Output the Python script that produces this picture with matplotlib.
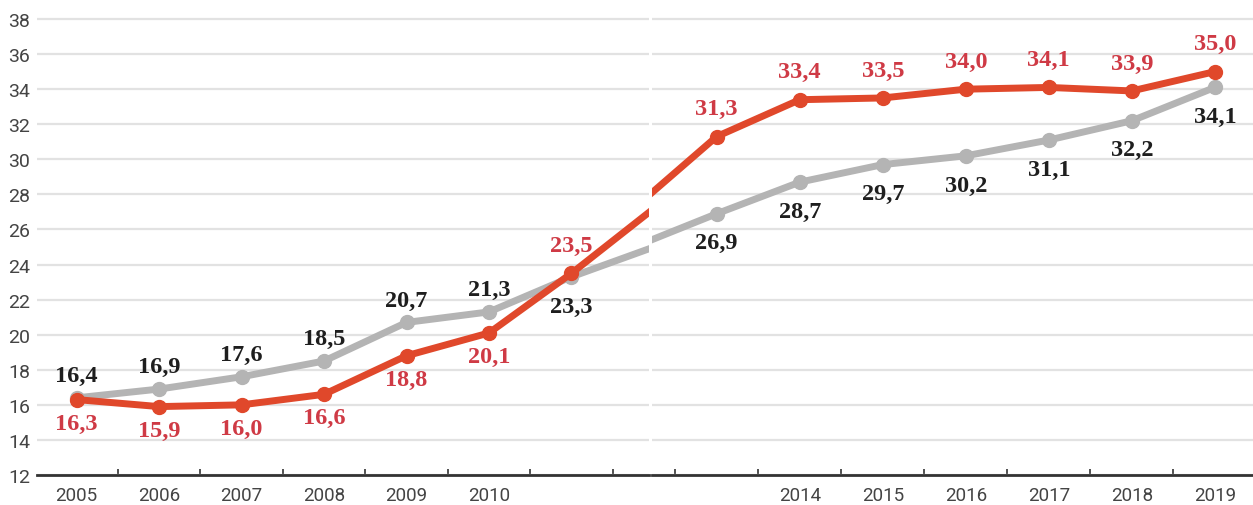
import numpy as np
import matplotlib
matplotlib.use('Agg')
import matplotlib.pyplot as plt

# data
years = [2005, 2006, 2007, 2008, 2009, 2010, 2011, 2012, 2013, 2014, 2015, 2016, 2017, 2018, 2019]
gray_vals = [16.4, 16.9, 17.6, 18.5, 20.7, 21.3, 23.3, 25.0, 26.9, 28.7, 29.7, 30.2, 31.1, 32.2, 34.1]
red_vals = [16.3, 15.9, 16.0, 16.6, 18.8, 20.1, 23.5, 27.2, 31.3, 33.4, 33.5, 34.0, 34.1, 33.9, 35.0]
left_labels = [2005, 2006, 2007, 2008, 2009, 2010]
right_labels = [2014, 2015, 2016, 2017, 2018, 2019]
yticks = list(range(12, 39, 2))
hidden = [2012]  # no marker / label for this year

RED = '#E0482B'
RED_TXT = '#CF3A45'
GRAY = '#B4B4B4'

fig = plt.figure(figsize=(12.53, 5.06), dpi=100)
axL = fig.add_axes([37/1253, 30/506, 612/1253, 470/506])
axR = fig.add_axes([652/1253, 30/506, 601/1253, 470/506])

yrs = np.array(years)
g = np.array(gray_vals)
r = np.array(red_vals)
show = ~np.isin(yrs, hidden)

serif = dict(family='Liberation Serif', weight='bold', fontsize=17.5)

for ax, xlim in ((axL, (2004.52, 2011.94)), (axR, (2012.22, 2019.46))):
    ax.set_xlim(*xlim)
    ax.set_ylim(12, 38.8)
    ax.set_yticks(yticks)
    ax.grid(axis='y', color='#E2E2E2', linewidth=1.6)
    ax.set_axisbelow(True)
    for s in ('top', 'right', 'left'):
        ax.spines[s].set_visible(False)
    ax.spines['bottom'].set_color('#333333')
    ax.spines['bottom'].set_linewidth(2)
    ax.tick_params(axis='y', length=0, labelsize=14, labelcolor='#444444', pad=5)
    ax.tick_params(axis='x', which='major', length=0, labelsize=13.5, labelcolor='#444444', pad=8)
    ax.tick_params(axis='x', which='minor', length=4, width=1.2, color='#333333', direction='in')
    ax.plot(yrs, g, color=GRAY, lw=5, solid_capstyle='butt', zorder=3)
    ax.plot(yrs[show], g[show], 'o', color=GRAY, ms=10, zorder=3)
    ax.plot(yrs, r, color=RED, lw=5, solid_capstyle='butt', zorder=4)
    ax.plot(yrs[show], r[show], 'o', color=RED, ms=10, zorder=4)

axL.set_xticks(left_labels)
axL.set_xticks(np.arange(2005.5, 2012, 1), minor=True)
axR.set_xticks(right_labels)
axR.set_xticks(np.arange(2012.5, 2019, 1), minor=True)
axR.set_yticklabels([])
for ax in (axL, axR):
    for lab in ax.get_xticklabels() + ax.get_yticklabels():
        lab.set_family('Roboto')

def fmt(v):
    return f'{v:.1f}'.replace('.', ',')

for y, gv, rv in zip(years, gray_vals, red_vals):
    if y in hidden:
        continue
    ax = axL if y <= 2011 else axR
    if y <= 2010:
        g_off, r_off = 16, -17
    else:
        g_off, r_off = -21, 20
    ax.annotate(fmt(gv), (y, gv), xytext=(0, g_off), textcoords='offset points',
                ha='center', va='center', color='#1E1E1E', zorder=6, **serif)
    ax.annotate(fmt(rv), (y, rv), xytext=(0, r_off), textcoords='offset points',
                ha='center', va='center', color=RED_TXT, zorder=6, **serif)

fig.savefig('out.png', dpi=100)
